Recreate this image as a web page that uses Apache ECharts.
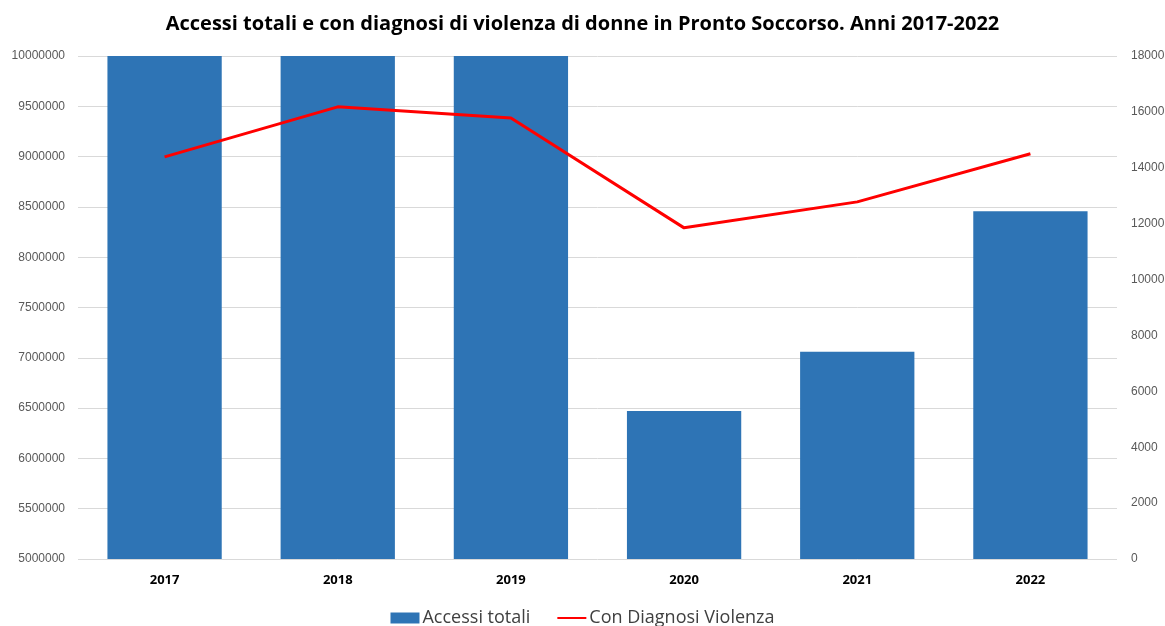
<!DOCTYPE html>
<html>
<head>
<meta charset="utf-8">
<script src="https://cdn.jsdelivr.net/npm/echarts@6/dist/echarts.min.js"></script>
<style>
  html, body { margin: 0; padding: 0; background: #fff; }
  #chart { width: 1165px; height: 626px; }
</style>
</head>
<body>
<div id="chart"></div>
<script>
var anni = ['2017', '2018', '2019', '2020', '2021', '2022'];
// accessi totali (2017-2019 oltre il massimo dell'asse, tagliati)
var accessiTotali = [10400000, 10600000, 10500000, 6470000, 7060000, 8456000];
var diagnosiViolenza = [14390, 16180, 15780, 11850, 12780, 14500];

var chartDom = document.getElementById('chart');
var myChart = echarts.init(chartDom);
var option;

option = {
    animation: false,
    title: {
        text: 'Accessi totali e con diagnosi di violenza di donne in Pronto Soccorso. Anni 2017-2022',
        left: 'center',
        top: 9,
        textStyle: { color: '#000000', fontSize: 20, fontWeight: 'bold', fontFamily: 'Open Sans' }
    },
    legend: {
        bottom: -6,
        left: 'center',
        itemGap: 26,
        itemWidth: 29,
        itemHeight: 11,
        textStyle: { color: '#404040', fontSize: 18, fontFamily: 'Open Sans', padding: [0, 0, 0, -2] },
        data: [
            { name: 'Accessi totali', icon: 'rect' },
            { name: 'Con Diagnosi Violenza', itemStyle: { opacity: 0 } }
        ]
    },
    grid: {
        left: 78,
        right: 48,
        top: 56,
        bottom: 67,
        outerBoundsMode: 'none'
    },
    xAxis: {
        type: 'category',
        data: anni,
        axisLine: { show: false },
        axisTick: { show: false },
        axisLabel: { color: '#000000', fontWeight: 'bold', fontSize: 13, fontFamily: 'Open Sans', margin: 15 }
    },
    yAxis: [{
        type: 'value',
        min: 5000000,
        max: 10000000,
        interval: 500000,
        splitLine: { lineStyle: { color: '#d9d9d9' } },
        axisLine: { show: false },
        axisTick: { show: false },
        axisLabel: {
            color: '#595959', fontSize: 12, fontFamily: 'Liberation Sans', margin: 13,
            formatter: function (v) { return String(v); }
        }
    },
    {
        type: 'value',
        min: 0,
        max: 18000,
        interval: 2000,
        splitLine: { show: false },
        axisLine: { show: false },
        axisTick: { show: false },
        axisLabel: {
            color: '#595959', fontSize: 12, fontFamily: 'Liberation Sans', margin: 14,
            formatter: function (v) { return String(v); }
        }
    }],
    series: [{
        name: 'Accessi totali',
        type: 'bar',
        data: accessiTotali,
        barWidth: '66%',
        clip: true,
        itemStyle: { color: '#2e74b5' }
    },
    {
        name: 'Con Diagnosi Violenza',
        type: 'line',
        yAxisIndex: 1,
        data: diagnosiViolenza,
        symbol: 'none',
        lineStyle: { color: '#ff0000', width: 3 },
        itemStyle: { color: '#ff0000' }
    }]
};

option && myChart.setOption(option);
</script>
</body>
</html>
